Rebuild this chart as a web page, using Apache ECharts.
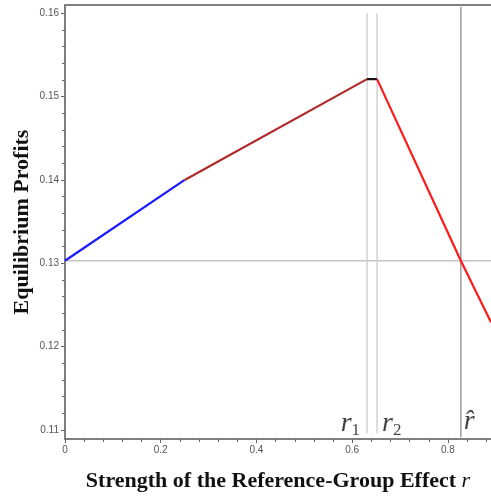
<!DOCTYPE html>
<html>
<head>
<meta charset="utf-8">
<script src="https://cdn.jsdelivr.net/npm/echarts@6/dist/echarts.min.js"></script>
<style>html,body{margin:0;padding:0;background:#fff}#c{width:491px;height:501px}</style>
</head>
<body>
<div id="c"></div>
<script>
// Data
var bluePts = [[0, 0.1303], [0.25, 0.1400]];
var brownPts = [[0.25, 0.1400], [0.631, 0.1521]];
var blackPts = [[0.631, 0.1521], [0.652, 0.1521]];
var redPts = [[0.652, 0.1521], [0.827, 0.1303], [0.89, 0.1229]];
var hLine = [[0, 0.1303], [0.89, 0.1303]];
var r1Line = [[0.631, 0.1600], [0.631, 0.1096]];
var r2Line = [[0.652, 0.1600], [0.652, 0.1096]];
var rHatLine = [[0.827, 0.1608], [0.827, 0.1091]];
var xMajor = [0, 0.2, 0.4, 0.6, 0.8];
var xMinor = [0.04, 0.08, 0.12, 0.16, 0.24, 0.28, 0.32, 0.36, 0.44, 0.48, 0.52, 0.56, 0.64, 0.68, 0.72, 0.76, 0.84, 0.88];
var yMajor = [0.11, 0.12, 0.13, 0.14, 0.15, 0.16];
var yMinor = [0.112, 0.114, 0.116, 0.118, 0.122, 0.124, 0.126, 0.128, 0.132, 0.134, 0.136, 0.138, 0.142, 0.144, 0.146, 0.148, 0.152, 0.154, 0.156, 0.158];
var xRange = [0, 0.89];
var yRange = [0.1089, 0.161];
var labelR1 = [[0.631, 0.1108]];
var labelR2 = [[0.652, 0.1108]];
var labelRHat = [[0.827, 0.1110]];

var chart = echarts.init(document.getElementById('c'));
var axisGray = '#7f7f7f';
var tickLabel = {fontFamily: 'Liberation Sans', fontSize: 10, color: '#555'};
function lineSeries(data, color, width) {
  return {type: 'line', data: data, symbol: 'none', silent: true,
    lineStyle: {color: color, width: width}, z: 3, animation: false};
}
function labelSeries(data, pos, dist, txt) {
  return {type: 'scatter', data: data, symbolSize: 0, silent: true, animation: false,
    label: {show: true, position: pos, distance: dist, formatter: txt,
      rich: {
        r: {fontFamily: 'Liberation Serif', fontStyle: 'italic', fontSize: 28, color: '#111'},
        s: {fontFamily: 'Liberation Serif', fontSize: 17, color: '#111', padding: [14, 0, 0, 0]}
      }}};
}
chart.setOption({
  animation: false,
  grid: {left: 65, right: 0, top: 5, bottom: 62, containLabel: false, outerBoundsMode: 'none'},
  xAxis: [
    {type: 'value', min: xRange[0], max: xRange[1], position: 'bottom',
      name: '{a|Strength of the Reference-Group Effect }{b|r}', nameLocation: 'middle', nameGap: 31,
      nameMoveOverlap: false,
      nameTextStyle: {rich: {
        a: {fontFamily: 'Liberation Serif', fontWeight: 'bold', fontSize: 22, color: '#111'},
        b: {fontFamily: 'Liberation Serif', fontStyle: 'italic', fontSize: 22, color: '#111'}}},
      axisLine: {show: true, lineStyle: {color: axisGray, width: 2}},
      axisTick: {show: true, length: 4, customValues: xMajor, lineStyle: {color: '#666'}},
      axisLabel: Object.assign({customValues: xMajor, margin: 6,
        formatter: function (v) { return String(Math.round(v * 10) / 10); }}, tickLabel),
      splitLine: {show: false}},
    {type: 'value', min: xRange[0], max: xRange[1], position: 'bottom',
      axisLine: {show: false},
      axisTick: {show: true, length: 3, customValues: xMinor, lineStyle: {color: '#666'}},
      axisLabel: {show: false}, splitLine: {show: false}},
    {type: 'value', min: xRange[0], max: xRange[1], position: 'top',
      axisLine: {show: true, lineStyle: {color: axisGray, width: 2}},
      axisTick: {show: false}, axisLabel: {show: false}, splitLine: {show: false}}
  ],
  yAxis: [
    {type: 'value', min: yRange[0], max: yRange[1], position: 'left',
      name: 'Equilibrium Profits', nameLocation: 'middle', nameGap: 32,
      nameMoveOverlap: false,
      nameTextStyle: {fontFamily: 'Liberation Serif', fontWeight: 'bold', fontSize: 22, color: '#111'},
      axisLine: {show: true, lineStyle: {color: axisGray, width: 2}},
      axisTick: {show: true, length: 4, customValues: yMajor, lineStyle: {color: '#666'}},
      axisLabel: Object.assign({customValues: yMajor, margin: 6,
        formatter: function (v) { return v.toFixed(2); }}, tickLabel),
      splitLine: {show: false}},
    {type: 'value', min: yRange[0], max: yRange[1], position: 'left',
      axisLine: {show: false},
      axisTick: {show: true, length: 3, customValues: yMinor, lineStyle: {color: '#666'}},
      axisLabel: {show: false}, splitLine: {show: false}}
  ],
  series: [
    lineSeries(hLine, '#c4c4c4', 1.5),
    lineSeries(r1Line, '#d2d2d2', 1.5),
    lineSeries(r2Line, '#d2d2d2', 1.5),
    lineSeries(rHatLine, '#9a9a9a', 1.5),
    lineSeries(bluePts, '#1a1aff', 2.2),
    lineSeries(brownPts, '#b02a2a', 2.2),
    lineSeries(blackPts, '#111111', 2.2),
    lineSeries(redPts, '#ff1a1a', 2.2),
    labelSeries(labelR1, 'left', 7, '{r|r}{s|1}'),
    labelSeries(labelR2, 'right', 5, '{r|r}{s|2}'),
    labelSeries(labelRHat, 'right', 3, '{r|r\u0302}')
  ]
});
</script>
</body>
</html>
